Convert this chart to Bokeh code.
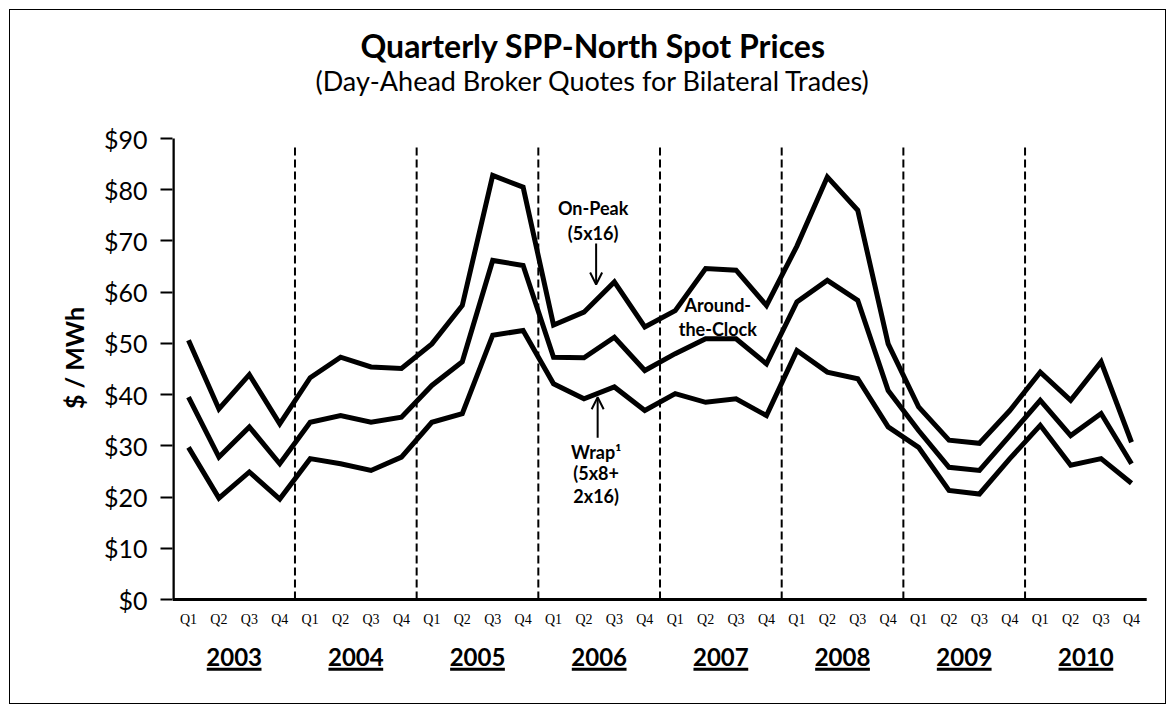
import math
from bokeh.plotting import figure
from bokeh.models import Range1d, FixedTicker, Arrow, OpenHead
from bokeh.core.properties import value
from bokeh.embed import file_html
from bokeh.resources import INLINE

# ---------------- data ----------------
years = ["2003", "2004", "2005", "2006", "2007", "2008", "2009", "2010"]
quarters = ["Q1", "Q2", "Q3", "Q4"]
on_peak = [50.6, 37.2, 43.9, 34.3,
           43.3, 47.3, 45.4, 45.1,
           49.9, 57.4, 82.8, 80.5,
           53.6, 56.1, 62.0, 53.2,
           56.4, 64.6, 64.3, 57.4,
           69.0, 82.5, 76.0, 49.9,
           37.6, 31.1, 30.5, 36.9,
           44.4, 38.9, 46.4, 30.7]
around_clock = [39.5, 27.8, 33.7, 26.5,
                34.6, 35.9, 34.6, 35.6,
                41.8, 46.4, 66.2, 65.2,
                47.3, 47.2, 51.2, 44.7,
                48.0, 50.9, 50.9, 46.0,
                58.1, 62.3, 58.4, 40.8,
                33.0, 25.8, 25.2, 32.0,
                38.9, 32.0, 36.3, 26.5]
wrap = [29.7, 19.8, 24.9, 19.6,
        27.5, 26.5, 25.2, 27.8,
        34.6, 36.3, 51.6, 52.5,
        42.1, 39.2, 41.5, 36.9,
        40.2, 38.5, 39.2, 35.9,
        48.6, 44.4, 43.1, 33.7,
        29.7, 21.3, 20.6, 27.5,
        34.0, 26.2, 27.5, 22.7]
y_ticks = [0, 10, 20, 30, 40, 50, 60, 70, 80, 90]
y_tick_labels = ["$0", "$10", "$20", "$30", "$40", "$50", "$60", "$70", "$80", "$90"]

title_text = "Quarterly SPP-North Spot Prices"
subtitle_text = "(Day-Ahead Broker Quotes for Bilateral Trades)"
y_label_text = "$ / MWh"

# ---------------- layout ----------------
W, H = 1157, 695
LEFT = 162                      # frame left (canvas px)
PX_PER_Q = 30.42                # px per quarter
PX_PER_USD = 5.122              # px per $1
X0_CANVAS = 178.0               # canvas x of first quarter
Y0_CANVAS = 589.0               # canvas y of $0

x_start = (LEFT - X0_CANVAS) / PX_PER_Q
x_end = x_start + (W - LEFT) / PX_PER_Q
y_end = Y0_CANVAS / PX_PER_USD
y_start = (Y0_CANVAS - H) / PX_PER_USD

FONT = "Lato"

p = figure(width=W, height=H, output_backend="svg", toolbar_location=None,
           x_range=Range1d(x_start, x_end), y_range=Range1d(y_start, y_end),
           min_border_left=LEFT, min_border_right=0, min_border_top=0,
           min_border_bottom=0, x_axis_location=None,
           styles={"border": "1px solid black", "margin-left": "9px",
                   "margin-top": "9px"})
p.outline_line_color = None
p.grid.visible = False
p.background_fill_color = "white"
p.border_fill_color = "white"

ya = p.yaxis[0]
ya.ticker = FixedTicker(ticks=y_ticks)
ya.major_label_overrides = {t: lab for t, lab in zip(y_ticks, y_tick_labels)}
ya.axis_line_color = None
ya.major_tick_in = 0
ya.major_tick_out = 12
ya.major_tick_line_width = 2
ya.major_tick_line_color = "black"
ya.minor_tick_line_color = None
ya.major_label_standoff = 13
ya.major_label_text_font = FONT
ya.major_label_text_font_size = "25px"
ya.major_label_text_color = "black"
ya.axis_label = y_label_text
ya.axis_label_text_font = FONT
ya.axis_label_text_font_style = "bold"
ya.axis_label_text_font_size = "25px"
ya.axis_label_text_color = "black"
ya.axis_label_standoff = 12

n = len(on_peak)
idx = list(range(n))

# axes lines
p.segment(x0=[-0.5], y0=[0], x1=[-0.5], y1=[y_ticks[-1]], line_color="black", line_width=3)
p.segment(x0=[x_start], y0=[0], x1=[n - 0.5], y1=[0], line_color="black", line_width=3)

# year separators
bounds = [4 * i - 0.5 for i in range(1, len(years))]
p.segment(x0=bounds, y0=[0] * len(bounds), x1=bounds, y1=[89] * len(bounds),
          line_color="black", line_width=2, line_dash="8 4")

# series
for series in (on_peak, around_clock, wrap):
    p.line(idx, series, line_color="black", line_width=5, line_join="miter")

# quarter labels
p.text(x=idx, y=[-3.9] * n, text=quarters * len(years), text_align="center",
       text_baseline="middle", text_font=value("Liberation Serif"),
       text_font_size="14px", text_color="black")

# year labels + underline
ycent = [4 * i + 1.5 for i in range(len(years))]
p.text(x=ycent, y=[-11.2] * len(years), text=years, text_align="center",
       text_baseline="middle", text_font=value(FONT), text_font_style="bold",
       text_font_size="24px", text_color="black")
p.segment(x0=[c - 0.9 for c in ycent], y0=[-13.6] * len(years),
          x1=[c + 0.9 for c in ycent], y1=[-13.6] * len(years),
          line_color="black", line_width=3)

# titles
p.text(x=[13.3], y=[108.2], text=[title_text], text_align="center",
       text_baseline="middle", text_font=value(FONT), text_font_style="bold",
       text_font_size="32px", text_color="black")
p.text(x=[13.3], y=[101.3], text=[subtitle_text], text_align="center",
       text_baseline="middle", text_font=value(FONT),
       text_font_size="27px", text_color="black")

# annotations
p.text(x=[13.3, 13.3], y=[76.4, 71.5], text=["On-Peak", "(5x16)"], text_align="center",
       text_baseline="middle", text_font=value(FONT), text_font_style="bold",
       text_font_size="18px", text_color="black")
p.add_layout(Arrow(end=OpenHead(size=12, line_width=2, line_color="black"),
                   x_start=13.4, y_start=69.5, x_end=13.4, y_end=61.5,
                   line_width=2, line_color="black"))
p.text(x=[17.4, 17.4], y=[57.4, 52.9], text=["Around-", "the-Clock"], text_align="center",
       text_baseline="middle", text_font=value(FONT), text_font_style="bold",
       text_font_size="18px", text_color="black")
p.add_layout(Arrow(end=OpenHead(size=12, line_width=2, line_color="black"),
                   x_start=13.45, y_start=31.6, x_end=13.45, y_end=39.5,
                   line_width=2, line_color="black"))
p.text(x=[13.4, 13.4, 13.4], y=[28.7, 24.6, 20.3], text=["Wrap\u00b9", "(5x8+", "2x16)"],
       text_align="center", text_baseline="middle", text_font=value(FONT),
       text_font_style="bold", text_font_size="18px", text_color="black")

open("out.html", "w").write(file_html(p, INLINE))
